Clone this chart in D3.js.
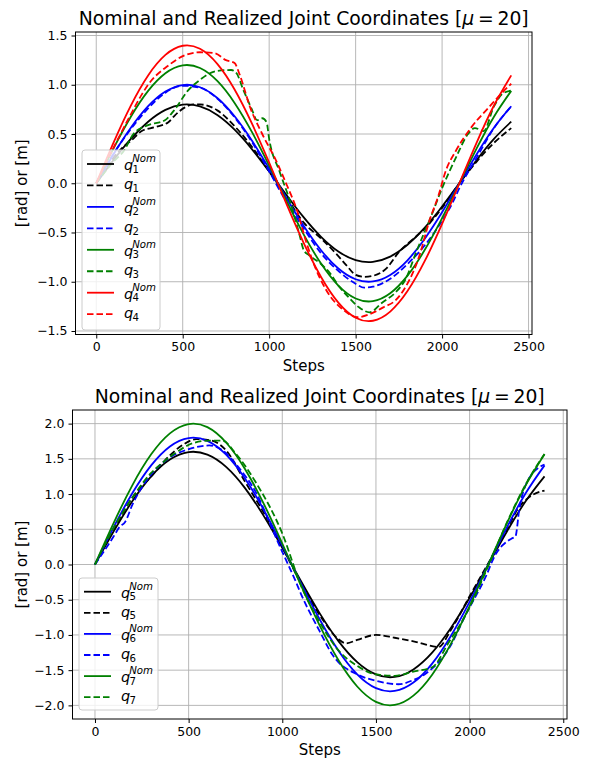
<!DOCTYPE html>
<html><head><meta charset="utf-8">
<script src="https://cdn.jsdelivr.net/npm/d3@7"></script>
<style>body{margin:0;background:#fff} svg{display:block} text{font-family:"DejaVu Sans",sans-serif}</style>
</head><body>
<svg id="chart" width="590" height="760"></svg>
<script>
// ---------- data ----------
const steps = [0,100,200,300,400,500,600,700,800,900,1000,1100,1200,1300,1400,1500,1600,1700,1800,1900,2000,2100,2200,2300,2400];
const xTicks = [0,500,1000,1500,2000,2500];
const yTicksTop = [-1.5,-1.0,-0.5,0.0,0.5,1.0,1.5];
const yTicksBottom = [-2.0,-1.5,-1.0,-0.5,0.0,0.5,1.0,1.5,2.0];
const titleText = "Nominal and Realized Joint Coordinates [";
const xLabel = "Steps";
const yLabel = "[rad] or [m]";

const q1Nom = [0,0.236,0.451,0.625,0.745,0.798,0.780,0.693,0.544,0.347,0.119,-0.119,-0.347,-0.544,-0.693,-0.780,-0.798,-0.745,-0.625,-0.451,-0.236,0,0.236,0.451,0.625];
const q2Nom = [0,0.295,0.563,0.782,0.931,0.997,0.975,0.866,0.680,0.434,0.149,-0.149,-0.434,-0.680,-0.866,-0.975,-0.997,-0.931,-0.782,-0.563,-0.295,0,0.295,0.563,0.782];
const q3Nom = [0,0.354,0.676,0.938,1.117,1.197,1.170,1.039,0.816,0.521,0.179,-0.179,-0.521,-0.816,-1.039,-1.170,-1.197,-1.117,-0.938,-0.676,-0.354,0,0.354,0.676,0.938];
const q4Nom = [0,0.413,0.789,1.095,1.303,1.396,1.365,1.212,0.952,0.607,0.209,-0.209,-0.607,-0.952,-1.212,-1.365,-1.396,-1.303,-1.095,-0.789,-0.413,0,0.413,0.789,1.095];
const q5Nom = [0,0.472,0.901,1.251,1.489,1.596,1.560,1.386,1.088,0.694,0.238,-0.238,-0.694,-1.088,-1.386,-1.560,-1.596,-1.489,-1.251,-0.901,-0.472,0,0.472,0.901,1.251];
const q6Nom = [0,0.531,1.014,1.407,1.676,1.795,1.755,1.559,1.224,0.781,0.268,-0.268,-0.781,-1.224,-1.559,-1.755,-1.795,-1.676,-1.407,-1.014,-0.531,0,0.531,1.014,1.407];
const q7Nom = [0,0.590,1.127,1.564,1.862,1.994,1.950,1.732,1.360,0.868,0.298,-0.298,-0.868,-1.360,-1.732,-1.950,-1.994,-1.862,-1.564,-1.127,-0.590,0,0.590,1.127,1.564];

// realized: [step, value]
const q1Real = [[0,0],[100,0.26],[150,0.36],[200,0.43],[263,0.53],[340,0.57],[417,0.62],[455,0.69],[513,0.77],[560,0.80],[600,0.80],[700,0.74],[800,0.58],[900,0.37],[1000,0.12],[1100,-0.14],[1200,-0.40],[1300,-0.56],[1400,-0.74],[1450,-0.84],[1500,-0.93],[1550,-0.95],[1600,-0.94],[1675,-0.87],[1750,-0.70],[1830,-0.57],[1900,-0.46],[2000,-0.25],[2100,0.0],[2200,0.22],[2300,0.41],[2400,0.56]];
const q2Real = [[0,0],[100,0.30],[200,0.55],[300,0.76],[400,0.92],[500,0.99],[600,0.97],[700,0.86],[800,0.67],[900,0.42],[1000,0.12],[1100,-0.19],[1200,-0.46],[1300,-0.71],[1400,-0.89],[1500,-1.02],[1550,-1.06],[1600,-1.05],[1700,-0.97],[1800,-0.82],[1900,-0.63],[2000,-0.38],[2060,-0.20],[2100,-0.05],[2200,0.26],[2300,0.56],[2400,0.78]];
const q3Real = [[0,0],[100,0.22],[160,0.33],[215,0.50],[300,0.59],[397,0.64],[450,0.74],[530,0.94],[600,1.05],[650,1.11],[700,1.14],[780,1.15],[810,1.12],[850,0.95],[900,0.75],[930,0.64],[960,0.66],[985,0.62],[1000,0.45],[1060,0.12],[1120,-0.18],[1175,-0.52],[1200,-0.68],[1230,-0.73],[1300,-0.82],[1350,-0.91],[1405,-1.05],[1450,-1.14],[1520,-1.26],[1580,-1.31],[1655,-1.21],[1730,-1.11],[1790,-0.97],[1850,-0.70],[1940,-0.32],[2000,-0.05],[2080,0.26],[2150,0.50],[2190,0.56],[2240,0.53],[2300,0.78],[2350,0.91],[2400,0.94]];
const q4Real = [[0,0],[100,0.36],[200,0.70],[263,0.90],[300,1.00],[420,1.20],[513,1.30],[600,1.33],[685,1.32],[750,1.25],[800,1.22],[830,1.10],[890,0.77],[960,0.50],[1040,0.23],[1100,-0.01],[1160,-0.27],[1215,-0.60],[1270,-0.87],[1350,-1.14],[1425,-1.28],[1510,-1.36],[1580,-1.33],[1660,-1.26],[1730,-1.19],[1790,-1.05],[1870,-0.73],[1925,-0.39],[1980,-0.12],[2020,0.12],[2080,0.33],[2170,0.57],[2270,0.77],[2370,0.96],[2400,1.01]];
const q5Real = [[0,0],[100,0.50],[200,0.95],[310,1.28],[400,1.55],[470,1.70],[540,1.78],[620,1.76],[700,1.62],[800,1.18],[900,0.74],[1000,0.25],[1100,-0.27],[1200,-0.72],[1300,-1.06],[1340,-1.12],[1400,-1.07],[1500,-1.00],[1600,-1.04],[1700,-1.09],[1835,-1.17],[1900,-0.93],[2000,-0.45],[2100,0.02],[2200,0.50],[2260,0.80],[2320,0.96],[2400,1.05]];
const q6Real = [[0,0],[100,0.40],[133,0.54],[160,0.60],[200,0.85],[310,1.31],[400,1.52],[505,1.64],[610,1.69],[700,1.58],[760,1.40],[860,1.02],[960,0.42],[1000,0.18],[1070,-0.23],[1100,-0.42],[1200,-0.95],[1270,-1.29],[1400,-1.56],[1500,-1.65],[1620,-1.70],[1700,-1.64],[1765,-1.55],[1890,-1.19],[1980,-0.71],[2085,-0.18],[2140,0.15],[2175,0.27],[2225,0.37],[2245,0.40],[2265,0.78],[2315,1.21],[2400,1.42]];
const q7Real = [[0,0],[100,0.52],[200,0.95],[300,1.30],[363,1.45],[450,1.62],[520,1.72],[612,1.76],[680,1.76],[750,1.58],[860,1.16],[1000,0.44],[1100,-0.30],[1200,-0.82],[1300,-1.22],[1400,-1.44],[1500,-1.56],[1600,-1.58],[1700,-1.52],[1800,-1.46],[1890,-1.10],[1980,-0.71],[2100,-0.02],[2200,0.60],[2300,1.14],[2400,1.57]];

const colors = {k:"#000000", b:"#0000ff", g:"#008000", r:"#ff0000"};

const panels = [
  {left:75.5, right:532, top:32, bottom:334.5, series:[
    {id:1, nom:q1Nom, real:q1Real, color:colors.k},
    {id:2, nom:q2Nom, real:q2Real, color:colors.b},
    {id:3, nom:q3Nom, real:q3Real, color:colors.g},
    {id:4, nom:q4Nom, real:q4Real, color:colors.r}],
   yTicks:yTicksTop, legend:{x:82, y:150, w:78, h:180, first:164, gap:21.45}},
  {left:72.5, right:567, top:410, bottom:719, series:[
    {id:5, nom:q5Nom, real:q5Real, color:colors.k},
    {id:6, nom:q6Nom, real:q6Real, color:colors.b},
    {id:7, nom:q7Nom, real:q7Real, color:colors.g}],
   yTicks:yTicksBottom, legend:{x:79, y:578, w:79, h:132, first:591.7, gap:21.1}}
];

// ---------- drawing ----------
const svg = d3.select("#chart");
const fmtY = d3.format(".1f");

panels.forEach(p => {
  const xs = steps.concat(...p.series.map(s => s.real.map(d => d[0])));
  const ys = p.series.flatMap(s => s.nom.concat(s.real.map(d => d[1])));
  const [x0, x1] = d3.extent(xs), [y0, y1] = d3.extent(ys);
  const xp = (x1 - x0) * 0.05, yp = (y1 - y0) * 0.05;
  const x = d3.scaleLinear().domain([x0 - xp, x1 + xp]).range([p.left, p.right]);
  const y = d3.scaleLinear().domain([y0 - yp, y1 + yp]).range([p.bottom, p.top]);

  const g = svg.append("g");
  // grid
  g.append("g").selectAll("line").data(xTicks.filter(t => x(t) <= p.right + 0.5)).join("line")
    .attr("x1", d => x(d)).attr("x2", d => x(d)).attr("y1", p.top).attr("y2", p.bottom)
    .attr("stroke", "#b0b0b0").attr("stroke-width", 0.9);
  g.append("g").selectAll("line").data(p.yTicks).join("line")
    .attr("y1", d => y(d)).attr("y2", d => y(d)).attr("x1", p.left).attr("x2", p.right)
    .attr("stroke", "#b0b0b0").attr("stroke-width", 0.9);

  // lines
  const nomLine = d3.line().x((d, i) => x(steps[i])).y(d => y(d)).curve(d3.curveNatural);
  const realLine = d3.line().x(d => x(d[0])).y(d => y(d[1])).curve(d3.curveMonotoneX);
  p.series.forEach(s => {
    g.append("path").attr("d", nomLine(s.nom)).attr("fill", "none")
      .attr("stroke", s.color).attr("stroke-width", 1.8);
    g.append("path").attr("d", realLine(s.real)).attr("fill", "none")
      .attr("stroke", s.color).attr("stroke-width", 1.8).attr("stroke-dasharray", "6.5,3");
  });

  // frame
  g.append("rect").attr("x", p.left).attr("y", p.top).attr("width", p.right - p.left).attr("height", p.bottom - p.top)
    .attr("fill", "none").attr("stroke", "#000").attr("stroke-width", 1);

  // axes
  const ax = g.append("g").attr("transform", `translate(0,${p.bottom})`)
    .call(d3.axisBottom(x).tickValues(xTicks).tickFormat(d3.format("d")).tickSize(4).tickPadding(4));
  const ay = g.append("g").attr("transform", `translate(${p.left},0)`)
    .call(d3.axisLeft(y).tickValues(p.yTicks).tickFormat(fmtY).tickSize(4).tickPadding(4));
  [ax, ay].forEach(a => {
    a.select(".domain").remove();
    a.selectAll("line").attr("stroke", "#000").attr("stroke-width", 1);
    a.selectAll("text").attr("font-family", '"DejaVu Sans", sans-serif').attr("font-size", "12.5px").attr("fill", "#000");
  });

  // title
  const cx = (p.left + p.right) / 2;
  const t = g.append("text").attr("x", cx).attr("y", p.top - 7).attr("text-anchor", "middle")
    .attr("font-size", "18.8px").attr("fill", "#000");
  t.append("tspan").text(titleText);
  t.append("tspan").attr("font-style", "italic").text("\u03bc");
  t.append("tspan").text("\u2009=\u200920]");

  // axis labels
  g.append("text").attr("x", cx).attr("y", p.bottom + 36).attr("text-anchor", "middle")
    .attr("font-size", "15px").attr("fill", "#000").text(xLabel);
  g.append("text").attr("transform", `translate(27,${(p.top + p.bottom) / 2}) rotate(-90)`)
    .attr("text-anchor", "middle").attr("font-size", "15px").attr("fill", "#000").text(yLabel);

  // legend
  const L = p.legend;
  const lg = g.append("g");
  lg.append("rect").attr("x", L.x).attr("y", L.y).attr("width", L.w).attr("height", L.h)
    .attr("rx", 3).attr("fill", "#fff").attr("fill-opacity", 0.8).attr("stroke", "#cccccc").attr("stroke-width", 1);
  const entries = p.series.flatMap(s => [{s, nom:true}, {s, nom:false}]);
  entries.forEach((e, i) => {
    const cy = L.first + i * L.gap;
    lg.append("line").attr("x1", L.x + 5).attr("x2", L.x + 32).attr("y1", cy).attr("y2", cy)
      .attr("stroke", e.s.color).attr("stroke-width", 1.8).attr("stroke-dasharray", e.nom ? null : "6.5,3");
    const tx = L.x + 42, base = cy + (e.nom ? 6 : 4);
    lg.append("text").attr("x", tx).attr("y", base).attr("font-size", "14.5px").attr("font-style", "italic")
      .attr("fill", "#000").text("q");
    lg.append("text").attr("x", tx + 8.6).attr("y", base + 2.5).attr("font-size", "10.2px")
      .attr("fill", "#000").text(e.s.id);
    if (e.nom) lg.append("text").attr("x", tx + 8.2).attr("y", base - 8).attr("font-size", "10.2px")
      .attr("font-style", "italic").attr("fill", "#000").text("Nom");
  });
});
</script></body></html>
